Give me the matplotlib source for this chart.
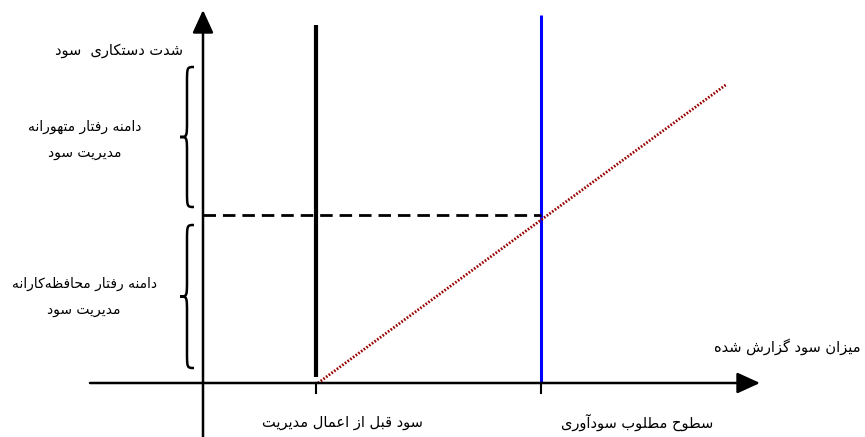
import matplotlib
matplotlib.use('Agg')
import matplotlib.pyplot as plt
from matplotlib.path import Path
import matplotlib.patches as patches

plt.rcParams['font.family'] = ['DejaVu Sans']

# متن‌ها
y_title = "شدت دستکاری  سود"
x_title = "میزان سود گزارش شده"
upper_label = ["دامنه رفتار متهورانه", "مدیریت سود"]
lower_label = ["دامنه رفتار محافظه\u200cکارانه", "مدیریت سود"]
tick_labels = ["سود قبل از اعمال مدیریت", "سطوح مطلوب سودآوری"]

# موقعیت‌ها (پیکسل)
axis_origin = [203, 383]
x_axis_span = [90, 760]
y_axis_span = [437, 10]
pre_profit_x = 316
target_x = 541
threshold_y = 215
red_start = [318, 383]
red_end = [727, 84]
upper_brace = [67, 207]
lower_brace = [225, 368]

# شکل‌دهی حروف فارسی (فرم‌های نمایشی)
FORMS = {
    'ا': ('\uFE8D', '\uFE8E', None, None),
    'آ': ('\uFE81', '\uFE82', None, None),
    'ب': ('\uFE8F', '\uFE90', '\uFE91', '\uFE92'),
    'ت': ('\uFE95', '\uFE96', '\uFE97', '\uFE98'),
    'ح': ('\uFEA1', '\uFEA2', '\uFEA3', '\uFEA4'),
    'د': ('\uFEA9', '\uFEAA', None, None),
    'ر': ('\uFEAD', '\uFEAE', None, None),
    'ز': ('\uFEAF', '\uFEB0', None, None),
    'س': ('\uFEB1', '\uFEB2', '\uFEB3', '\uFEB4'),
    'ش': ('\uFEB5', '\uFEB6', '\uFEB7', '\uFEB8'),
    'ط': ('\uFEC1', '\uFEC2', '\uFEC3', '\uFEC4'),
    'ظ': ('\uFEC5', '\uFEC6', '\uFEC7', '\uFEC8'),
    'ع': ('\uFEC9', '\uFECA', '\uFECB', '\uFECC'),
    'ف': ('\uFED1', '\uFED2', '\uFED3', '\uFED4'),
    'ق': ('\uFED5', '\uFED6', '\uFED7', '\uFED8'),
    'ل': ('\uFEDD', '\uFEDE', '\uFEDF', '\uFEE0'),
    'م': ('\uFEE1', '\uFEE2', '\uFEE3', '\uFEE4'),
    'ن': ('\uFEE5', '\uFEE6', '\uFEE7', '\uFEE8'),
    'ه': ('\uFEE9', '\uFEEA', '\uFEEB', '\uFEEC'),
    'و': ('\uFEED', '\uFEEE', None, None),
    'ی': ('\uFBFC', '\uFBFD', '\uFBFE', '\uFBFF'),
    'ک': ('\uFB8E', '\uFB8F', '\uFB90', '\uFB91'),
    'گ': ('\uFB92', '\uFB93', '\uFB94', '\uFB95'),
}


def fa(text):
    out = []
    n = len(text)
    for i, ch in enumerate(text):
        if ch not in FORMS:
            out.append(ch)
            continue
        prev = text[i - 1] if i > 0 else ''
        nxt = text[i + 1] if i < n - 1 else ''
        join_prev = prev in FORMS and FORMS[prev][2] is not None
        join_next = FORMS[ch][2] is not None and nxt in FORMS
        iso, fin, ini, med = FORMS[ch]
        if join_prev and join_next:
            out.append(med)
        elif join_prev:
            out.append(fin)
        elif join_next:
            out.append(ini)
        else:
            out.append(iso)
    s = ''.join(out).replace('\u200c', '')
    return s[::-1]


def brace(ax, x, y0, y1, w):
    ym = (y0 + y1) / 2
    m = x + w / 2
    r = w * 1.2
    verts = [(x + w, y0), (m, y0), (m, y0), (m, y0 + r),
             (m, ym - r),
             (m, ym), (m, ym), (x, ym),
             (m, ym), (m, ym), (m, ym + r),
             (m, y1 - r),
             (m, y1), (m, y1), (x + w, y1)]
    codes = [Path.MOVETO, Path.CURVE4, Path.CURVE4, Path.CURVE4,
             Path.LINETO,
             Path.CURVE4, Path.CURVE4, Path.CURVE4,
             Path.CURVE4, Path.CURVE4, Path.CURVE4,
             Path.LINETO,
             Path.CURVE4, Path.CURVE4, Path.CURVE4]
    ax.add_patch(patches.PathPatch(Path(verts, codes), fill=False, lw=1.8, color='black'))


fig = plt.figure(figsize=(8.65, 4.37), dpi=100)
ax = fig.add_axes([0, 0, 1, 1])
ax.set_xlim(0, 865)
ax.set_ylim(437, 0)
ax.axis('off')

arrow = dict(arrowstyle='-|>,head_length=0.7,head_width=0.32', lw=1.8, color='black',
             mutation_scale=20, shrinkA=0, shrinkB=0)
# محور افقی
ax.annotate('', xy=(x_axis_span[1], axis_origin[1]), xytext=(x_axis_span[0], axis_origin[1]),
            arrowprops=arrow)
# محور عمودی
ax.annotate('', xy=(axis_origin[0], y_axis_span[1]), xytext=(axis_origin[0], y_axis_span[0]),
            arrowprops=arrow)

# خطوط عمودی
ax.plot([pre_profit_x, pre_profit_x], [25, 377], color='black', lw=3, solid_capstyle='butt')
ax.plot([target_x, target_x], [15, axis_origin[1]], color='#0000ff', lw=2.2, solid_capstyle='butt')
for tx in [pre_profit_x, target_x]:
    ax.plot([tx, tx], [axis_origin[1], axis_origin[1] + 10], color='black', lw=1.5)

# خط‌چین افقی
ax.plot([axis_origin[0], target_x], [threshold_y, threshold_y], color='black', lw=2,
        dashes=(4.5, 2.5))

# خط قرمز
ax.plot([red_start[0], red_end[0]], [red_start[1], red_end[1]], color='#990000', lw=2,
        linestyle=(0, (0.6, 0.6)))

# آکولادها
brace(ax, 180, upper_brace[0], upper_brace[1], 14)
brace(ax, 180, lower_brace[0], lower_brace[1], 14)

fs = 10.5
ax.text(183, 50, fa(y_title), ha='right', va='center', fontsize=fs)
ax.text(85, 127, fa(upper_label[0]), ha='center', va='center', fontsize=fs - 0.5)
ax.text(85, 153, fa(upper_label[1]), ha='center', va='center', fontsize=fs - 0.5)
ax.text(84, 284, fa(lower_label[0]), ha='center', va='center', fontsize=fs - 0.5)
ax.text(84, 310, fa(lower_label[1]), ha='center', va='center', fontsize=fs - 0.5)
ax.text(861, 347, fa(x_title), ha='right', va='center', fontsize=fs)
ax.text(342, 422, fa(tick_labels[0]), ha='center', va='center', fontsize=fs)
ax.text(637, 422, fa(tick_labels[1]), ha='center', va='center', fontsize=fs)

fig.savefig('out.png', dpi=100)
